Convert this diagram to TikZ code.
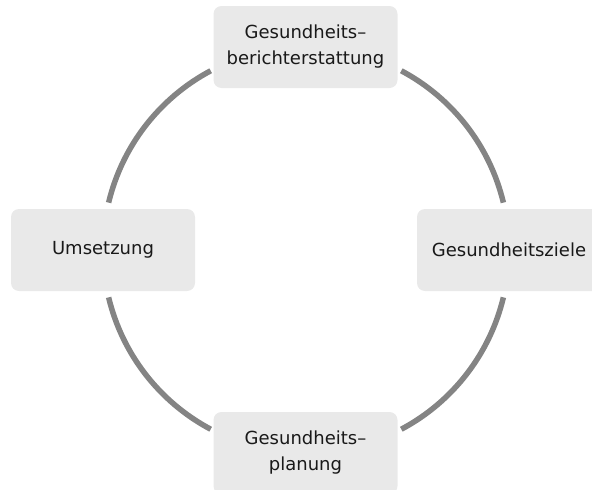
\documentclass[tikz,border=0pt]{standalone}
\usepackage{fontspec}
\setmainfont{DejaVu Sans}
\begin{document}
\begin{tikzpicture}[x=1pt,y=1pt,
  box/.style={fill=boxgray, rounded corners=8pt, minimum width=184pt, minimum height=82pt,
    inner sep=0pt, align=center, font=\fontsize{18pt}{26pt}\selectfont, text=black!90},
  ring/.style={draw=ringgray, line width=5.5pt}]
\definecolor{boxgray}{HTML}{E9E9E9}
\definecolor{ringgray}{HTML}{848484}
\useasboundingbox (0,0) rectangle (592,-490);
\clip (0,0) rectangle (592,-490);
\coordinate (c) at (306,-250);
\node[box] (top) at (305.5,-47) {Gesundheits–\\berichterstattung};
\node[box] (left) at (103,-250) {Umsetzung};
\node[box] (right) at (509,-250) {Gesundheitsziele};
\node[box] (bottom) at (305.5,-453) {Gesundheits–\\planung};
\draw[ring] ([shift={(118:203)}]c) arc[start angle=118, end angle=166.5, radius=203];
\draw[ring] ([shift={(62:203)}]c) arc[start angle=62, end angle=13.5, radius=203];
\draw[ring] ([shift={(-13.5:203)}]c) arc[start angle=-13.5, end angle=-62, radius=203];
\draw[ring] ([shift={(193.5:203)}]c) arc[start angle=193.5, end angle=242, radius=203];
\end{tikzpicture}
\end{document}
